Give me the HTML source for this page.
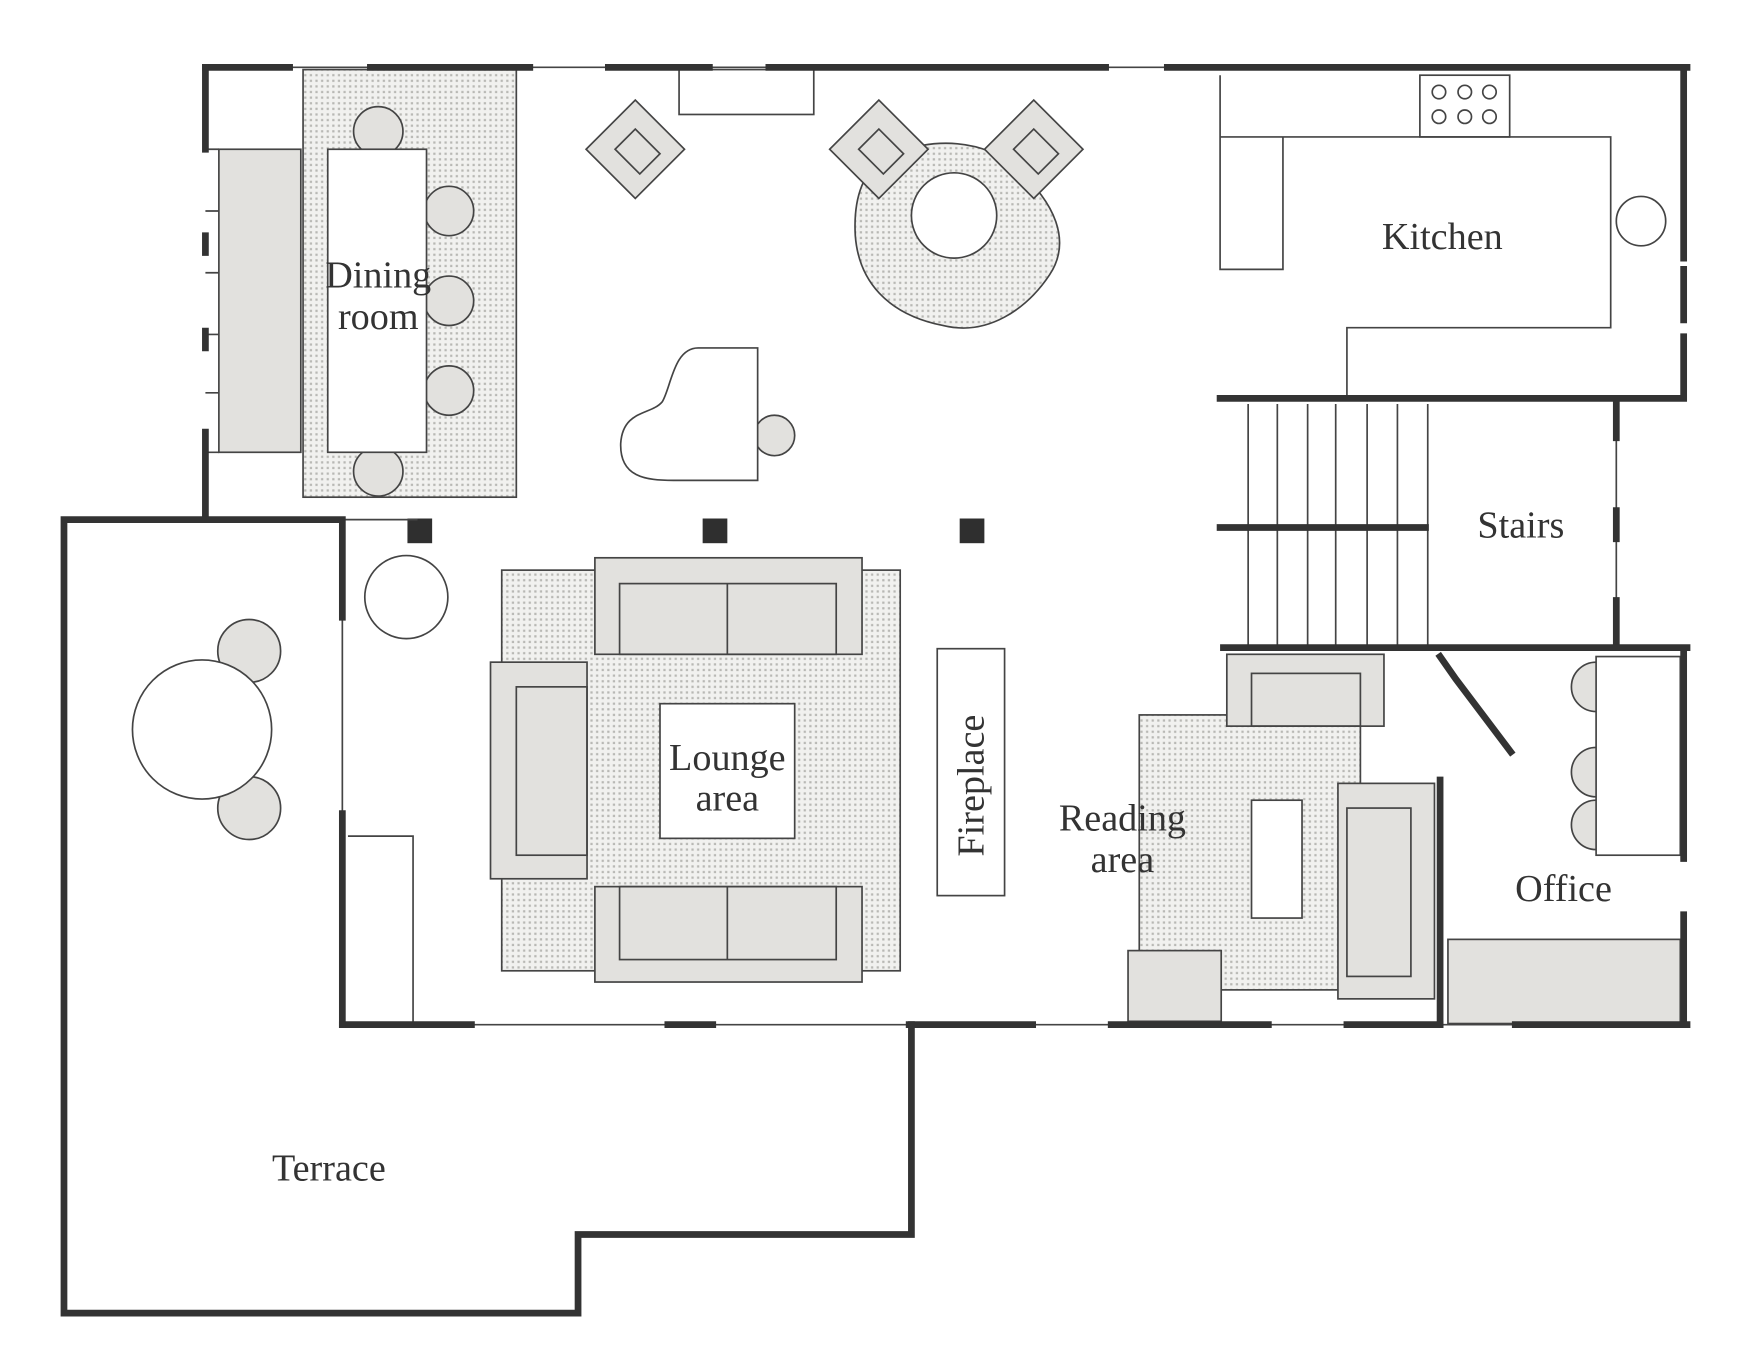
<!DOCTYPE html>
<html><head><meta charset="utf-8"><style>
html,body{margin:0;padding:0;background:#fff;}
svg{display:block;}
text{font-family:"Liberation Serif",serif;fill:#333;font-size:34px;}
</style></head><body>
<svg width="1751" height="1358" viewBox="0 0 1560 1210" preserveAspectRatio="none" xmlns="http://www.w3.org/2000/svg">
<defs>
<pattern id="d" width="5" height="5" patternUnits="userSpaceOnUse">
<rect width="5" height="5" fill="#f1f1ef"/><rect x="1" y="1" width="2" height="2" fill="#b8b8b4"/>
</pattern>
</defs>
<g stroke="#444" stroke-width="1.5" fill="none">
<!-- rugs -->
<rect x="270" y="62" width="190" height="381" fill="url(#d)"/>
<rect x="447" y="508" width="355" height="357" fill="url(#d)"/>
<rect x="1015" y="637" width="197" height="245" fill="url(#d)"/>
<path d="M790,140 C830,120 880,125 905,150 C940,180 955,215 935,245 C915,275 880,300 840,290 C790,280 765,250 762,210 C760,175 770,150 790,140 Z" fill="url(#d)"/>
<circle cx="850" cy="192" r="38" fill="#fff"/>
<!-- dining -->
<rect x="195" y="133" width="73" height="270" fill="#e2e1de"/>
<path d="M183,133 H195 M183,188 H195 M183,243 H195 M183,298 H195 M183,350 H195 M183,403 H195"/>
<g fill="#e2e1de">
<circle cx="337" cy="117" r="22"/><circle cx="337" cy="420" r="22"/>
<circle cx="400" cy="188" r="22"/><circle cx="400" cy="268" r="22"/><circle cx="400" cy="348" r="22"/>
</g>
<rect x="292" y="133" width="88" height="270" fill="#fff"/>
<!-- fireplace top -->
<rect x="605" y="62" width="120" height="40" fill="#fff"/>
<!-- diamond chairs -->
<g fill="#e2e1de">
<rect x="-31" y="-31" width="62" height="62" transform="translate(566,133) rotate(45)"/>
<rect x="-31" y="-31" width="62" height="62" transform="translate(783,133) rotate(45)"/>
<rect x="-31" y="-31" width="62" height="62" transform="translate(921,133) rotate(45)"/>
</g>
<path d="M548,133 L566,115 L588,137 L570,155 Z M765,133 L783,115 L805,137 L787,155 Z M903,133 L921,115 L943,137 L925,155 Z"/>
<!-- piano -->
<circle cx="690" cy="388" r="18" fill="#e2e1de"/>
<path d="M675,310 H622 C600,310 598,345 590,358 C580,370 555,365 553,395 C552,425 575,428 600,428 H675 Z" fill="#fff"/>
<!-- columns -->
<g fill="#2f2f2f" stroke="none">
<rect x="363" y="462" width="22" height="22"/><rect x="626" y="462" width="22" height="22"/><rect x="855" y="462" width="22" height="22"/>
</g>
<circle cx="362" cy="532" r="37" fill="#fff"/>
<!-- terrace table -->
<circle cx="222" cy="580" r="28" fill="#e2e1de"/><circle cx="222" cy="720" r="28" fill="#e2e1de"/>
<circle cx="180" cy="650" r="62" fill="#fff"/>
<path d="M310,745 H368 V913"/>
<!-- lounge -->
<rect x="530" y="497" width="238" height="86" fill="#e2e1de"/>
<rect x="552" y="520" width="193" height="63"/><path d="M648,520 V583"/>
<rect x="530" y="790" width="238" height="85" fill="#e2e1de"/>
<rect x="552" y="790" width="193" height="65"/><path d="M648,790 V855"/>
<rect x="437" y="590" width="86" height="193" fill="#e2e1de"/>
<rect x="460" y="612" width="63" height="150"/>
<rect x="588" y="627" width="120" height="120" fill="#fff"/>
<rect x="835" y="578" width="60" height="220" fill="#fff"/>
<!-- kitchen -->
<rect x="1265" y="67" width="80" height="55"/>
<circle cx="1282" cy="82" r="6"/><circle cx="1305" cy="82" r="6"/><circle cx="1327" cy="82" r="6"/>
<circle cx="1282" cy="104" r="6"/><circle cx="1305" cy="104" r="6"/><circle cx="1327" cy="104" r="6"/>
<path d="M1087,67 V240 H1143 V122 M1087,122 H1435 V292 H1200 V355"/>
<circle cx="1462" cy="197" r="22" fill="#fff"/>
<!-- stairs -->
<path d="M1112,360 V577 M1138,360 V577 M1165,360 V577 M1190,360 V577 M1218,360 V577 M1245,360 V577 M1272,360 V577"/>
<!-- reading -->
<rect x="1093" y="583" width="140" height="64" fill="#e2e1de"/>
<rect x="1115" y="600" width="97" height="47"/>
<rect x="1192" y="698" width="86" height="192" fill="#e2e1de"/>
<rect x="1200" y="720" width="57" height="150"/>
<rect x="1115" y="713" width="45" height="105" fill="#fff"/>
<rect x="1005" y="847" width="83" height="63" fill="#e2e1de"/>
<!-- office -->
<g fill="#e2e1de"><circle cx="1422" cy="612" r="22"/><circle cx="1422" cy="688" r="22"/><circle cx="1422" cy="735" r="22"/></g>
<rect x="1422" y="585" width="75" height="177" fill="#fff"/>
<rect x="1290" y="837" width="207" height="75" fill="#e2e1de"/>
<!-- thin window lines -->
<path d="M183,60 H1503 M305,463 H372 M305,550 V725 M420,913 H1503 M1440,360 V575"/>
</g>
<!-- thick walls -->
<g stroke="#333" stroke-width="6" fill="none" stroke-linecap="square">
<path d="M183,60 H258 M330,60 H472 M542,60 H632 M685,60 H985 M1040,60 H1503"/>
<path d="M183,60 V133 M183,210 V225 M183,295 V310 M183,385 V460"/>
<path d="M1500,60 V230 M1500,240 V285 M1500,300 V355 H1087"/>
<path d="M1440,360 V390 M1440,455 V480 M1440,535 V577"/>
<path d="M1087,470 H1270 M1090,577 H1503 M1500,577 V765 M1500,815 V913"/>
<path d="M305,913 H420 M595,913 H635 M810,913 H920 M990,913 H1130 M1200,913 H1283 M1350,913 H1503"/>
<path d="M1283,695 V913 M1283,585 L1297,605 L1346,670"/>
<path d="M183,463 H305 V550 M305,725 V913 M812,913 V1100 H515 V1170 H57 V463 H183"/>
</g>
<!-- labels -->
<text x="1285" y="222" text-anchor="middle">Kitchen</text>
<text x="337" y="256" text-anchor="middle">Dining</text>
<text x="337" y="293" text-anchor="middle">room</text>
<text x="1355" y="479" text-anchor="middle">Stairs</text>
<text x="648" y="686" text-anchor="middle">Lounge</text>
<text x="648" y="722" text-anchor="middle">area</text>
<text transform="translate(876,700) rotate(-90)" text-anchor="middle">Fireplace</text>
<text x="1000" y="740" text-anchor="middle">Reading</text>
<text x="1000" y="777" text-anchor="middle">area</text>
<text x="1393" y="803" text-anchor="middle">Office</text>
<text x="293" y="1052" text-anchor="middle">Terrace</text>
</svg>
</body></html>
